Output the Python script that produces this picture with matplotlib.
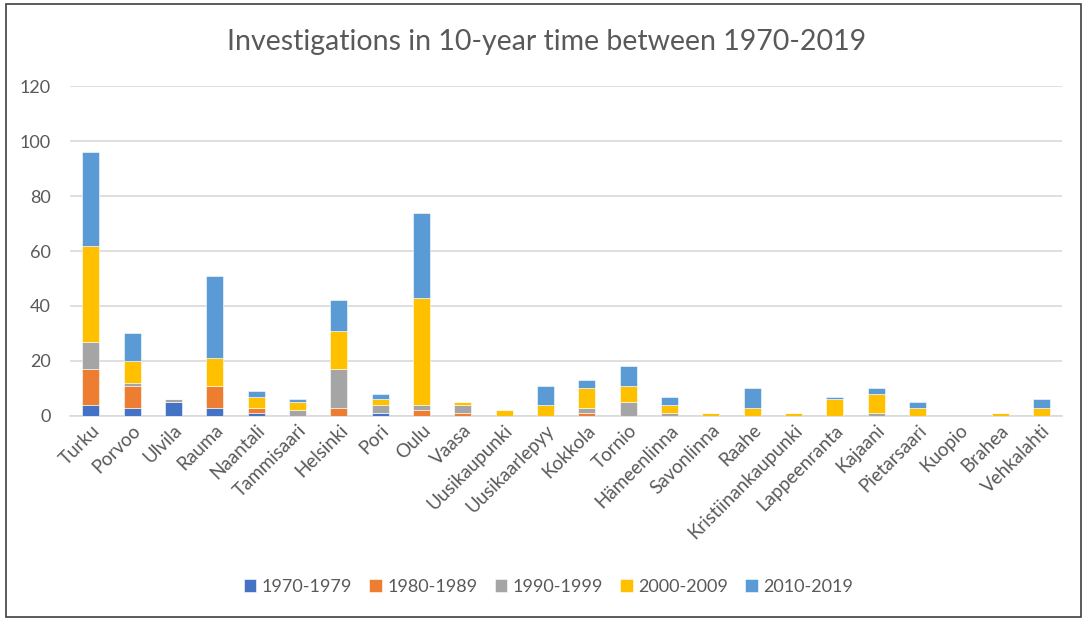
import matplotlib
matplotlib.use("Agg")
import matplotlib.pyplot as plt
import numpy as np
from matplotlib.patches import Rectangle

plt.rcParams['font.family'] = ['Lato', 'DejaVu Sans']

places = ["Turku", "Porvoo", "Ulvila", "Rauma", "Naantali", "Tammisaari", "Helsinki",
          "Pori", "Oulu", "Vaasa", "Uusikaupunki", "Uusikaarlepyy", "Kokkola", "Tornio",
          "Hämeenlinna", "Savonlinna", "Raahe", "Kristiinankaupunki", "Lappeenranta",
          "Kajaani", "Pietarsaari", "Kuopio", "Brahea", "Vehkalahti"]

decades = ["1970-1979", "1980-1989", "1990-1999", "2000-2009", "2010-2019"]

d1970 = [4, 3, 5, 3, 1, 0, 0, 1, 0, 0, 0, 0, 0, 0, 0, 0, 0, 0, 0, 0, 0, 0, 0, 0]
d1980 = [13, 8, 0, 8, 2, 0, 3, 0, 2, 1, 0, 0, 1, 0, 0, 0, 0, 0, 0, 0, 0, 0, 0, 0]
d1990 = [10, 1, 1, 0, 0, 2, 14, 3, 2, 3, 0, 0, 2, 5, 1, 0, 0, 0, 0, 1, 0, 0, 0, 0]
d2000 = [35, 8, 0, 10, 4, 3, 14, 2, 39, 1, 2, 4, 7, 6, 3, 1, 3, 1, 6, 7, 3, 0, 1, 3]
d2010 = [34, 10, 0, 30, 2, 1, 11, 2, 31, 0, 0, 7, 3, 7, 3, 0, 7, 0, 1, 2, 2, 0, 0, 3]

colors = ["#4472C4", "#ED7D31", "#A5A5A5", "#FFC000", "#5B9BD5"]

fig = plt.figure(figsize=(10.86, 6.19), dpi=100)
ax = fig.add_axes([0.0645, 0.328, 0.9135, 0.533])

x = np.arange(len(places))
bottom = np.zeros(len(places))
for vals, lab, col in zip([d1970, d1980, d1990, d2000, d2010], decades, colors):
    ax.bar(x, vals, 0.41, bottom=bottom, color=col, label=lab,
           edgecolor="white", linewidth=0.4, zorder=3)
    bottom += np.array(vals)

ax.set_xlim(-0.5, len(places) - 0.5)
ax.set_ylim(0, 120)
ax.set_yticks(range(0, 121, 20))
ax.grid(axis="y", color="#D9D9D9", linewidth=1.2, zorder=0)
for s in ["top", "right", "left"]:
    ax.spines[s].set_visible(False)
ax.spines["bottom"].set_color("#D9D9D9")
ax.spines["bottom"].set_linewidth(1.2)
ax.tick_params(axis="both", length=0, labelsize=13, colors="#595959", pad=14)
ax.tick_params(axis="x", pad=4, labelsize=13.5)
ax.set_xticks(x)
ax.set_xticklabels(places, rotation=45, ha="right", rotation_mode="anchor")

fig.text(0.503, 0.932, "Investigations in 10-year time between 1970-2019",
         ha="center", va="center", fontsize=20.5, color="#595959")

leg = fig.legend(loc="center", bbox_to_anchor=(0.505, 0.052), ncol=5, frameon=False,
                 fontsize=13, handlelength=0.7, handleheight=0.7, columnspacing=0.95,
                 handletextpad=0.3)
for t in leg.get_texts():
    t.set_color("#595959")

fig.patches.append(Rectangle((0.0055, 0.004), 0.99, 0.99, transform=fig.transFigure,
                             fill=False, edgecolor="#404040", linewidth=1.2))

fig.savefig("out.png", dpi=100)
